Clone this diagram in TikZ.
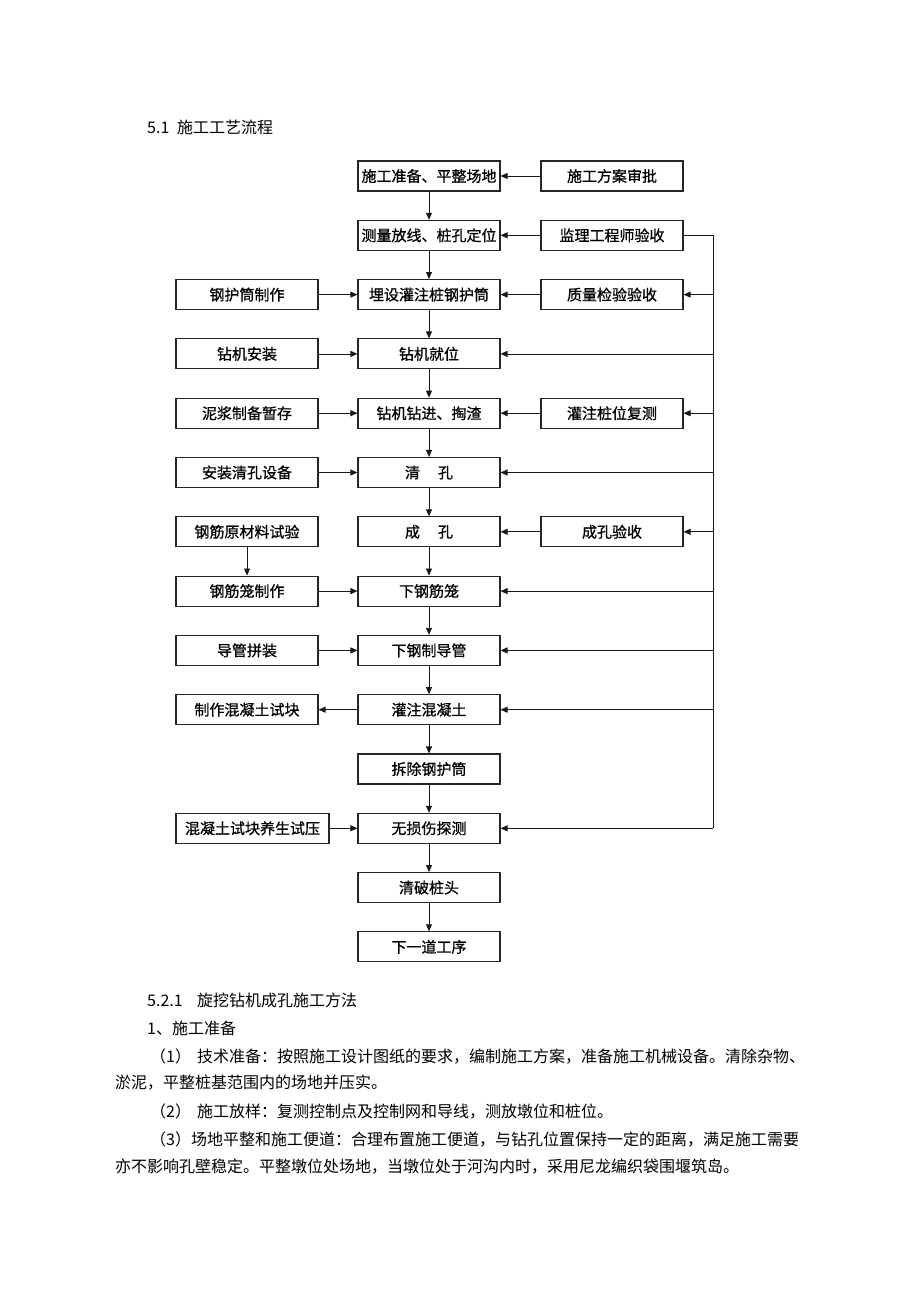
\documentclass[tikz,border=0pt]{standalone}
\usepackage{fontspec}
\setmainfont{Noto Sans CJK SC}
\newfontfamily\boxfont{Noto Sans CJK SC}[FakeBold=0.8]
\usetikzlibrary{arrows.meta}
\begin{document}
\begin{tikzpicture}[x=1pt,y=-1pt,
  box/.style={draw=black!85, line width=1.1pt, minimum width=142pt, minimum height=30pt,
    inner sep=0pt, font=\boxfont\fontsize{15}{15}\selectfont},
  link/.style={line width=0.8pt, draw=black!90, -{Triangle[length=7pt,width=6pt]}},
  plain/.style={line width=0.8pt, draw=black!90},
  body/.style={anchor=west, inner sep=0pt, font=\fontsize{16}{16}\selectfont}]
\useasboundingbox (0,0) rectangle (920,1302);
\fill[white] (0,0) rectangle (920,1302);

% title
\node[body] (title) at (147,127) {\makebox[30pt][l]{5.1}施工工艺流程};

% centre column
\node[box] (c0) at (429,176.0) {施工准备、平整场地};
\node[box] (c1) at (429,235.3) {测量放线、桩孔定位};
\node[box] (c2) at (429,294.6) {埋设灌注桩钢护筒};
\node[box] (c3) at (429,353.9) {钻机就位};
\node[box] (c4) at (429,413.2) {钻机钻进、掏渣};
\node[box] (c5) at (429,472.5) {清\hspace{1.2em}孔};
\node[box] (c6) at (429,531.8) {成\hspace{1.2em}孔};
\node[box] (c7) at (429,591.1) {下钢筋笼};
\node[box] (c8) at (429,650.4) {下钢制导管};
\node[box] (c9) at (429,709.7) {灌注混凝土};
\node[box] (c10) at (429,769.0) {拆除钢护筒};
\node[box] (c11) at (429,828.3) {无损伤探测};
\node[box] (c12) at (429,887.6) {清破桩头};
\node[box] (c13) at (429,946.9) {下一道工序};

% right column
\node[box] (r0) at (612,176.0) {施工方案审批};
\node[box] (r1) at (612,235.3) {监理工程师验收};
\node[box] (r2) at (612,294.6) {质量检验验收};
\node[box] (r4) at (612,413.2) {灌注桩位复测};
\node[box] (r6) at (612,531.8) {成孔验收};

% left column
\node[box] (l2) at (247,294.6) {钢护筒制作};
\node[box] (l3) at (247,353.9) {钻机安装};
\node[box] (l4) at (247,413.2) {泥浆制备暂存};
\node[box] (l5) at (247,472.5) {安装清孔设备};
\node[box] (l6) at (247,531.8) {钢筋原材料试验};
\node[box] (l7) at (247,591.1) {钢筋笼制作};
\node[box] (l8) at (247,650.4) {导管拼装};
\node[box] (l9) at (247,709.7) {制作混凝土试块};
\node[box, minimum width=153pt] (l11) at (252.5,828.3) {混凝土试块养生试压};

% main chain
\foreach \a/\b in {c0/c1,c1/c2,c2/c3,c3/c4,c4/c5,c5/c6,c6/c7,c7/c8,c8/c9,c9/c10,c10/c11,c11/c12,c12/c13}
  \draw[link] (\a) -- (\b);

% right to centre
\foreach \r/\c in {r0/c0,r1/c1,r2/c2,r4/c4,r6/c6}
  \draw[link] (\r) -- (\c);

% left to centre
\foreach \l/\c in {l2/c2,l3/c3,l4/c4,l5/c5,l7/c7,l8/c8,l11/c11}
  \draw[link] (\l) -- (\c);
\draw[link] (c9) -- (l9);
\draw[link] (l6) -- (l7);

% supervision bus
\coordinate (bus) at (713,0);
\draw[plain] (r1.east) -- (bus |- r1.east) -- (bus |- c11.east);
\foreach \t in {r2,c3,r4,c5,r6,c7,c8,c9,c11}
  \draw[link] (bus |- \t.east) -- (\t.east);

% body text
\node[body] (t1) at (147,1000) {\makebox[50pt][l]{5.2.1}旋挖钻机成孔施工方法};
\node[body] (t2) at (147,1028) {1、施工准备};
\node[body] (t3) at (150,1056) {\makebox[47pt][l]{（1）}技术准备：按照施工设计图纸的要求，编制施工方案，准备施工机械设备。清除杂物、};
\node[body] (t4) at (115,1083) {淤泥，平整桩基范围内的场地并压实。};
\node[body] (t5) at (150,1111) {\makebox[47pt][l]{（2）}施工放样：复测控制点及控制网和导线，测放墩位和桩位。};
\node[body] (t6) at (150,1139) {（3）场地平整和施工便道：合理布置施工便道，与钻孔位置保持一定的距离，满足施工需要};
\node[body] (t7) at (115,1167) {亦不影响孔壁稳定。平整墩位处场地，当墩位处于河沟内时，采用尼龙编织袋围堰筑岛。};
\end{tikzpicture}
\end{document}
